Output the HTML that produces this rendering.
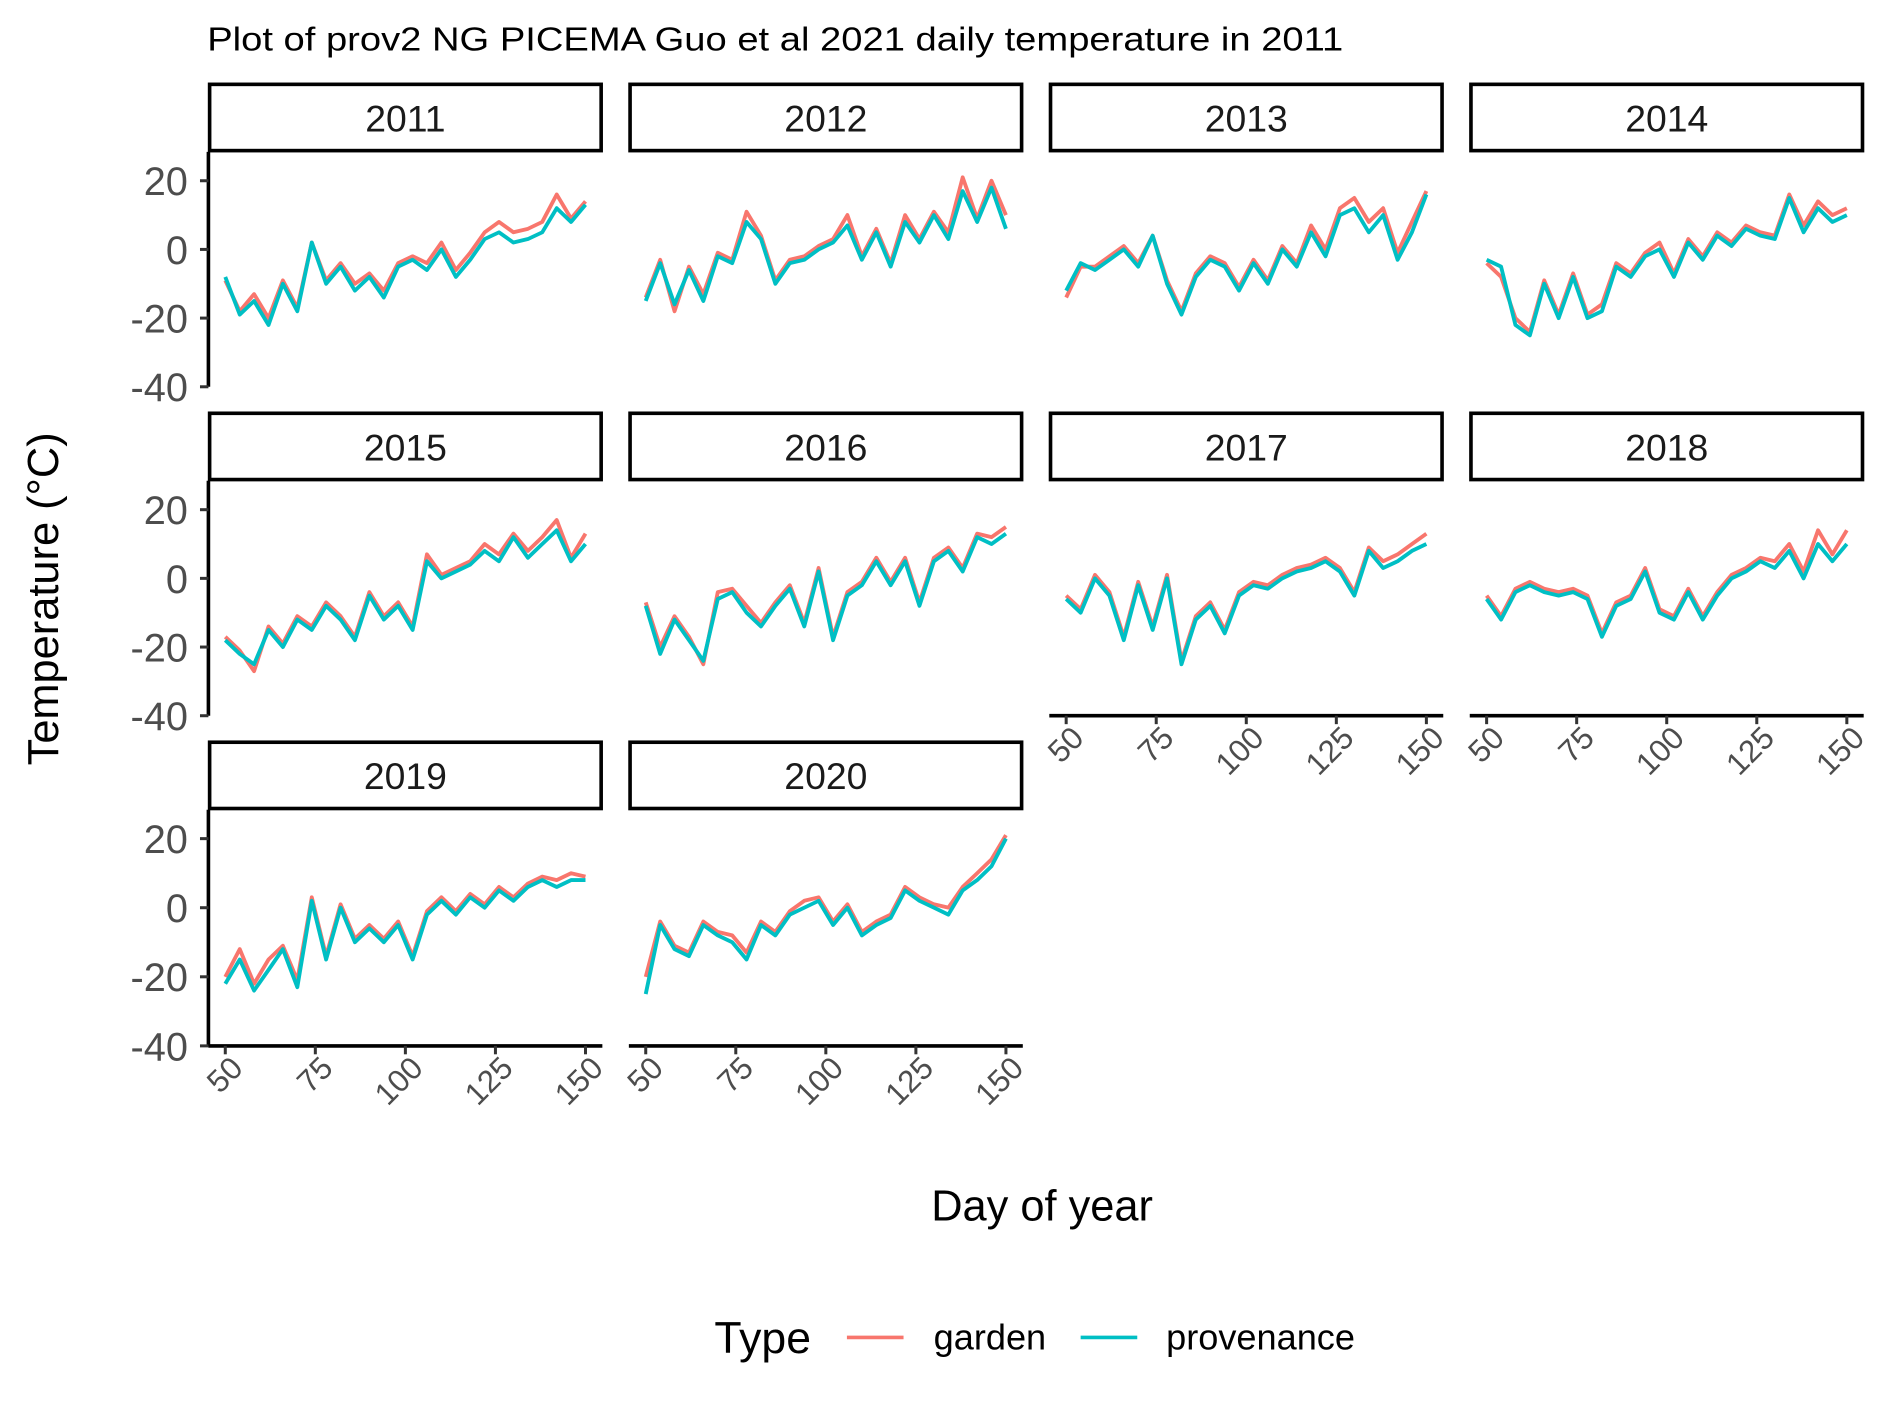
<!DOCTYPE html>
<html><head><meta charset="utf-8"><style>
html,body{margin:0;padding:0;background:#fff;}
svg{display:block;}
text{font-family:"Liberation Sans",Arial,sans-serif;}
</style></head><body>
<svg id="chart" width="1889" height="1417" viewBox="0 0 1568 1176" preserveAspectRatio="none" xmlns="http://www.w3.org/2000/svg">
<rect width="1568" height="1176" fill="#fff"/>
<text x="172" y="42" font-size="28" fill="#000" textLength="943" lengthAdjust="spacingAndGlyphs">Plot of prov2 NG PICEMA Guo et al 2021 daily temperature in 2011</text>
<text transform="translate(48,497) rotate(-90)" text-anchor="middle" font-size="36" fill="#000">Temperature (°C)</text>
<text x="865" y="1013" text-anchor="middle" font-size="36" fill="#000">Day of year</text>
<g>
<text x="593" y="1123" font-size="37" fill="#000">Type</text>
<line x1="703" y1="1110" x2="750" y2="1110" stroke="#F8766D" stroke-width="3"/>
<text x="775" y="1120" font-size="30" fill="#000">garden</text>
<line x1="897" y1="1110" x2="944" y2="1110" stroke="#00BFC4" stroke-width="3"/>
<text x="968" y="1120" font-size="30" fill="#000">provenance</text>
</g>
<g id="panels"></g>
</svg>
<script>
const years = ["2011","2012","2013","2014","2015","2016","2017","2018","2019","2020"];
const days = [50,54,58,62,66,70,74,78,82,86,90,94,98,102,106,110,114,118,122,126,130,134,138,142,146,150];
const yTicks = [20,0,-20,-40];
const yTickLabels = ["20","0","-20","-40"];
const xTicks = [50,75,100,125,150];
const xTickLabels = ["50","75","100","125","150"];
const provenance = [
[-8,-19,-15,-22,-10,-18,2,-10,-5,-12,-8,-14,-5,-3,-6,0,-8,-3,3,5,2,3,5,12,8,13],
[-15,-4,-16,-6,-15,-2,-4,8,3,-10,-4,-3,0,2,7,-3,5,-5,8,2,10,3,17,8,18,6],
[-12,-4,-6,-3,0,-5,4,-10,-19,-8,-3,-5,-12,-4,-10,0,-5,5,-2,10,12,5,10,-3,5,16],
[-3,-5,-22,-25,-10,-20,-8,-20,-18,-5,-8,-2,0,-8,2,-3,4,1,6,4,3,15,5,12,8,10],
[-18,-22,-25,-15,-20,-12,-15,-8,-12,-18,-5,-12,-8,-15,5,0,2,4,8,5,12,6,10,14,5,10],
[-8,-22,-12,-18,-24,-6,-4,-10,-14,-8,-3,-14,2,-18,-5,-2,5,-2,5,-8,5,8,2,12,10,13],
[-6,-10,0,-5,-18,-2,-15,0,-25,-12,-8,-16,-5,-2,-3,0,2,3,5,2,-5,8,3,5,8,10],
[-6,-12,-4,-2,-4,-5,-4,-6,-17,-8,-6,2,-10,-12,-4,-12,-5,0,2,5,3,8,0,10,5,10],
[-22,-15,-24,-18,-12,-23,2,-15,0,-10,-6,-10,-5,-15,-2,2,-2,3,0,5,2,6,8,6,8,8],
[-25,-5,-12,-14,-5,-8,-10,-15,-5,-8,-2,0,2,-5,0,-8,-5,-3,5,2,0,-2,5,8,12,20]
];
const garden = [
[-9,-18,-13,-20,-9,-17,2,-9,-4,-10,-7,-12,-4,-2,-4,2,-6,-1,5,8,5,6,8,16,9,14],
[-14,-3,-18,-5,-13,-1,-3,11,4,-9,-3,-2,1,3,10,-2,6,-4,10,3,11,5,21,9,20,10],
[-14,-5,-5,-2,1,-4,4,-9,-18,-7,-2,-4,-11,-3,-9,1,-4,7,0,12,15,8,12,-1,8,17],
[-4,-8,-20,-24,-9,-19,-7,-19,-16,-4,-7,-1,2,-7,3,-2,5,2,7,5,4,16,7,14,10,12],
[-17,-21,-27,-14,-19,-11,-14,-7,-11,-17,-4,-11,-7,-14,7,1,3,5,10,7,13,8,12,17,6,13],
[-7,-20,-11,-17,-25,-4,-3,-8,-13,-7,-2,-13,3,-17,-4,-1,6,-1,6,-7,6,9,3,13,12,15],
[-5,-9,1,-4,-17,-1,-14,1,-24,-11,-7,-15,-4,-1,-2,1,3,4,6,3,-4,9,5,7,10,13],
[-5,-11,-3,-1,-3,-4,-3,-5,-16,-7,-5,3,-9,-11,-3,-11,-4,1,3,6,5,10,2,14,7,14],
[-20,-12,-22,-15,-11,-21,3,-14,1,-9,-5,-9,-4,-14,-1,3,-1,4,1,6,3,7,9,8,10,9],
[-20,-4,-11,-13,-4,-7,-8,-13,-4,-7,-1,2,3,-4,1,-7,-4,-2,6,3,1,0,6,10,14,21]
];
const colX = [173,522,871,1220];
const rows = [{s:69,top:126,y20:150,y40:321},{s:342,top:399,y20:423,y40:594},{s:615,top:672,y20:696,y40:868}];
const W = 327;
const NS = "http://www.w3.org/2000/svg";
const root = document.getElementById('panels');
function mk(tag, attrs, parent){const e=document.createElementNS(NS,tag);for(const k in attrs)e.setAttribute(k,attrs[k]);parent.appendChild(e);return e;}
years.forEach((yr,i)=>{
  const c=i%4, r=Math.floor(i/4), x0=colX[c], R=rows[r];
  const g=mk('g',{},root);
  
  
  const xs=d=>x0+14+(d-50)*(W-28)/100;
  const ys=v=>R.y20+(20-v)*(R.y40-R.y20)/60;
  const strip=mk('rect',{x:x0+1,y:R.s+1,width:W-2,height:55,fill:'#fff',stroke:'#000','stroke-width':3},g);
  
  
  const st=mk('text',{x:x0+W/2,y:R.s+40,'text-anchor':'middle','font-size':31,fill:'#1a1a1a'},g);
  st.textContent=yr;
  
  
  if(c===0){
    const ax=mk('line',{x1:x0,y1:R.top,x2:x0,y2:R.y40,stroke:'#000','stroke-width':3},g);
    
    
    yTicks.forEach((t,k)=>{
      mk('line',{x1:x0-7,y1:ys(t),x2:x0,y2:ys(t),stroke:'#333','stroke-width':2.5},g);
      const tl=mk('text',{x:x0-17,y:ys(t)+12,'text-anchor':'end','font-size':33,fill:'#4d4d4d'},g);
      tl.textContent=yTickLabels[k];
      
      
    });
  }
  const hasBelow = i+4<years.length;
  if(!hasBelow){
    const by=R.y40;
    const xa=mk('line',{x1:x0,y1:by,x2:x0+W,y2:by,stroke:'#000','stroke-width':3},g);
    
    
    xTicks.forEach((t,k)=>{
      mk('line',{x1:xs(t),y1:by,x2:xs(t),y2:by+7,stroke:'#333','stroke-width':2.5},g);
      const tl=mk('text',{transform:`translate(${xs(t)+16},${by+20}) rotate(-45)`,'text-anchor':'end','font-size':26,fill:'#4d4d4d'},g);
      tl.textContent=xTickLabels[k];
      
      
    });
  }
  const pg=mk('path',{d:garden[i].map((v,k)=>(k?'L':'M')+xs(days[k]).toFixed(1)+' '+ys(v).toFixed(1)).join(''),fill:'none',stroke:'#F8766D','stroke-width':3.2,'stroke-linejoin':'round'},g);
  
  
  const pp=mk('path',{d:provenance[i].map((v,k)=>(k?'L':'M')+xs(days[k]).toFixed(1)+' '+ys(v).toFixed(1)).join(''),fill:'none',stroke:'#00BFC4','stroke-width':3.2,'stroke-linejoin':'round'},g);
  
  
});
</script>
</body></html>
